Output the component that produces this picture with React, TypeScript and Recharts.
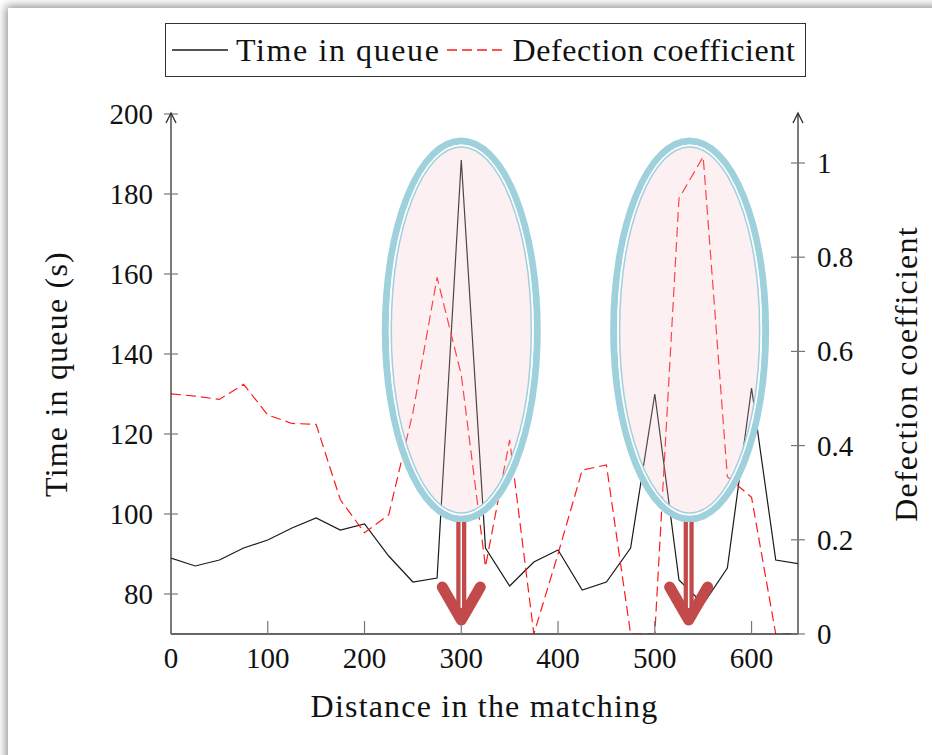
import React from 'react';
import { LineChart, Line, XAxis, YAxis, ReferenceDot } from 'recharts';

const distances = [0, 25, 50, 75, 100, 125, 150, 175, 200, 225, 250, 275, 300, 325, 350, 375, 400, 425, 450, 475, 500, 525, 550, 575, 600, 625, 650];
const timeInQueue = [89, 87, 88.5, 91.5, 93.5, 96.5, 99, 96, 97.5, 89.5, 83, 84, 188.5, 91.5, 82, 88, 91, 81, 83, 91.5, 130, 83.5, 77.5, 86.5, 131.5, 88.5, 87.5];
const defectionCoefficient = [0.51, 0.505, 0.498, 0.53, 0.465, 0.447, 0.445, 0.285, 0.215, 0.253, 0.47, 0.757, 0.55, 0.143, 0.412, 0, 0.17, 0.348, 0.359, 0, 0, 0.925, 1.013, 0.334, 0.29, 0, 0];

const xTicks = [0, 100, 200, 300, 400, 500, 600];
const leftTicks = [80, 100, 120, 140, 160, 180, 200];
const rightTicks = [0, 0.2, 0.4, 0.6, 0.8, 1];

const seriesNames = ['Time in queue', 'Defection coefficient'];
const axisTitles = { x: 'Distance in the matching', left: 'Time in queue (s)', right: 'Defection coefficient' };

const highlightCenters = [{ x: 300, y: 146 }, { x: 536, y: 146 }];
const arrowTips = [{ x: 300, y: 73.5 }, { x: 535, y: 73.5 }];

const data = distances.map((d, i) => ({ x: d, time: timeInQueue[i], defection: defectionCoefficient[i] }));

const FONT = 'Liberation Serif';
const TICK_COLOR = '#777';
const AXIS_COLOR = '#333';

const tickText = { fontFamily: FONT, fontSize: 29, fill: '#111' };

const LeftTick = (p: any) => (
  <g>
    <line x1={p.x - 7} x2={p.x + 7} y1={p.y} y2={p.y} stroke={TICK_COLOR} strokeWidth={1.2} />
    <text x={p.x - 18} y={p.y} textAnchor="end" dominantBaseline="central" fontFamily={FONT} style={tickText}>{p.payload.value}</text>
  </g>
);
const RightTick = (p: any) => (
  <g>
    <line x1={p.x - 7} x2={p.x + 7} y1={p.y} y2={p.y} stroke={TICK_COLOR} strokeWidth={1.2} />
    <text x={p.x + 19} y={p.y} textAnchor="start" dominantBaseline="central" fontFamily={FONT} style={tickText}>{String(p.payload.value)}</text>
  </g>
);
const BottomTick = (p: any) => (
  <g>
    <line x1={p.x} x2={p.x} y1={p.y} y2={p.y - 13} stroke={TICK_COLOR} strokeWidth={1.2} />
    <text x={p.x} y={p.y + 24} textAnchor="middle" dominantBaseline="central" fontFamily={FONT} style={tickText}>{p.payload.value}</text>
  </g>
);
const TopTick = (p: any) => (
  <g>
    <line x1={p.x} x2={p.x} y1={p.y} y2={p.y + 13} stroke={TICK_COLOR} strokeWidth={1.2} />
  </g>
);

const EllipseShape = (p: any) => {
  const { cx, cy } = p;
  const c = '#9fd1dd';
  return (
    <g>
      <ellipse cx={cx} cy={cy} rx={76} ry={189} fill="#f2c4cf" fillOpacity={0.25} stroke={c} strokeWidth={7} />
      <ellipse cx={cx} cy={cy} rx={71.5} ry={184.5} fill="none" stroke="#fff" strokeWidth={2} />
      <ellipse cx={cx} cy={cy} rx={70} ry={183} fill="none" stroke={c} strokeWidth={1.5} />
    </g>
  );
};

const ArrowShape = (p: any) => {
  const { cx, cy } = p;
  const c = '#c24a4a';
  return (
    <g>
      <rect x={cx - 5} y={cy - 98} width={10} height={92} fill={c} />
      <line x1={cx} x2={cx} y1={cy - 98} y2={cy - 12} stroke="#fff" strokeWidth={1.5} />
      <polyline points={`${cx - 19},${cy - 33} ${cx},${cy} ${cx + 19},${cy - 33}`} fill="none" stroke={c} strokeWidth={11} strokeLinecap="round" strokeLinejoin="round" />
    </g>
  );
};

const labelStyle = { fontFamily: FONT, fontSize: 32, letterSpacing: 1.2, fill: '#111', textAnchor: 'middle' as const };

export default function App() {
  return (
    <div style={{ position: 'absolute', left: 0, top: 0, width: 932, height: 755, overflow: 'hidden', background: '#fff' }}>
      <div style={{ position: 'absolute', left: 8, top: 8, width: 960, height: 780, background: '#fff', boxShadow: '0 0 9px 2px rgba(0,0,0,0.45)' }} />
      <div style={{ position: 'absolute', left: 0, top: 0 }}>
        <LineChart width={932} height={755} data={data} margin={{ top: 114, right: 0, bottom: 0, left: 0 }}>
          <XAxis xAxisId="bottom" dataKey="x" type="number" domain={[0, 648]} ticks={xTicks} allowDataOverflow
            orientation="bottom" height={121} tickSize={0} tickMargin={0} tickLine={false}
            axisLine={{ stroke: AXIS_COLOR, strokeWidth: 1.3 }} tick={<BottomTick />}
            label={{ value: axisTitles.x, position: 'insideBottom', offset: 38, style: labelStyle, fontFamily: FONT }} />
          <XAxis xAxisId="top" dataKey="x" type="number" domain={[0, 648]} ticks={xTicks} allowDataOverflow
            orientation="top" height={0} tickSize={0} tickMargin={0} tickLine={false}
            axisLine={{ stroke: AXIS_COLOR, strokeWidth: 1.3 }} tick={<TopTick />} />
          <YAxis yAxisId="left" orientation="left" type="number" domain={[70, 200]} ticks={leftTicks} allowDataOverflow
            width={171} tickSize={0} tickMargin={0} tickLine={false}
            axisLine={{ stroke: AXIS_COLOR, strokeWidth: 1.3 }} tick={<LeftTick />}
            label={{ value: axisTitles.left, angle: -90, position: 'insideLeft', offset: 56, style: labelStyle, fontFamily: FONT }} />
          <YAxis yAxisId="right" orientation="right" type="number" domain={[0, 1.104]} ticks={rightTicks} allowDataOverflow
            width={134} tickSize={0} tickMargin={0} tickLine={false}
            axisLine={{ stroke: AXIS_COLOR, strokeWidth: 1.3 }} tick={<RightTick />}
            label={{ value: axisTitles.right, angle: -90, position: 'insideRight', offset: 26, style: labelStyle, fontFamily: FONT }} />
          <Line xAxisId="bottom" yAxisId="left" dataKey="time" name={seriesNames[0]} type="linear" stroke="#1a1a1a" strokeWidth={1.2} dot={false} isAnimationActive={false} />
          <Line xAxisId="bottom" yAxisId="right" dataKey="defection" name={seriesNames[1]} type="linear" stroke="#ff1a1a" strokeWidth={1.2} strokeDasharray="10 5" dot={false} isAnimationActive={false} />
          {highlightCenters.map((h, i) => (
            <ReferenceDot key={'e' + i} xAxisId="bottom" yAxisId="left" x={h.x} y={h.y} r={1} shape={EllipseShape} />
          ))}
          {arrowTips.map((a, i) => (
            <ReferenceDot key={'a' + i} xAxisId="bottom" yAxisId="left" x={a.x} y={a.y} r={1} shape={ArrowShape} />
          ))}
        </LineChart>
      </div>
      <svg style={{ position: 'absolute', left: 0, top: 0, pointerEvents: 'none' }} width={932} height={755}>
        <polyline points="166,123 171,113 176,123" fill="none" stroke={AXIS_COLOR} strokeWidth={1.4} />
        <polyline points="793,123 798,113 803,123" fill="none" stroke={AXIS_COLOR} strokeWidth={1.4} />
      </svg>
      <div style={{ position: 'absolute', left: 165, top: 23, width: 641, height: 54, boxSizing: 'border-box', border: '1.5px solid #333', display: 'flex', alignItems: 'center', fontFamily: FONT, fontSize: 32, color: '#111', whiteSpace: 'nowrap' }}>
        <svg width={64} height={20} style={{ marginLeft: 6 }}>
          <line x1={0} x2={56} y1={10} y2={10} stroke="#1a1a1a" strokeWidth={1.3} />
        </svg>
        <span style={{ letterSpacing: 1.6 }}>{seriesNames[0]}</span>
        <svg width={66} height={20} style={{ marginLeft: 6 }}>
          <line x1={0} x2={56} y1={10} y2={10} stroke="#ff1a1a" strokeWidth={1.3} strokeDasharray="10 5" />
        </svg>
        <span style={{ letterSpacing: 0.6 }}>{seriesNames[1]}</span>
      </div>
    </div>
  );
}
